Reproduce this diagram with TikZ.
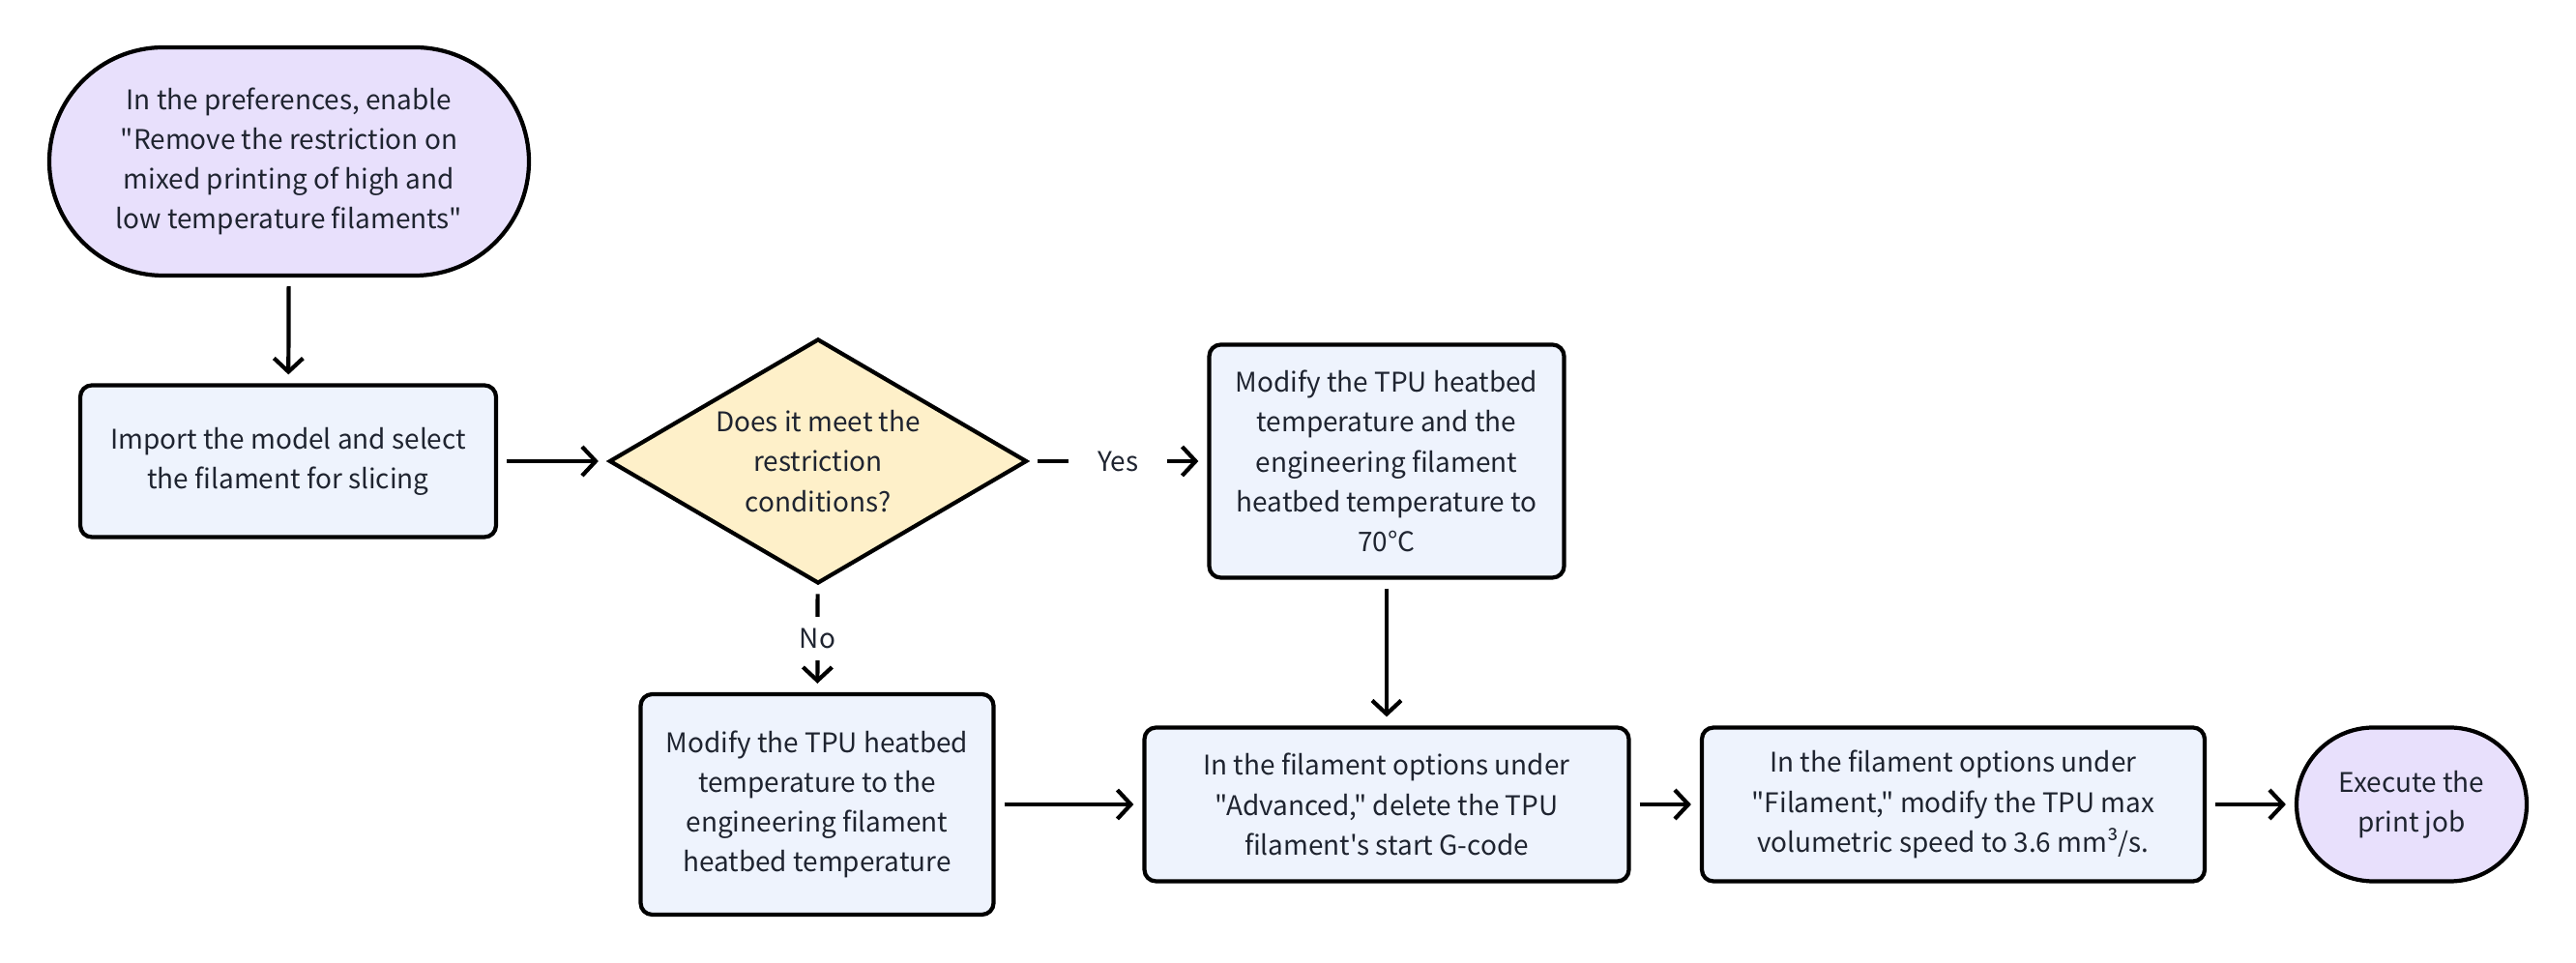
\documentclass[tikz,border=0pt]{standalone}
\usepackage{fontspec}
\newfontfamily\flowfont{Noto Sans CJK SC}
\usepackage{tikz}
\usetikzlibrary{shapes.geometric, shapes.misc, arrows.meta}

\definecolor{termfill}{HTML}{E8E0FC}
\definecolor{stepfill}{HTML}{EEF3FD}
\definecolor{decfill}{HTML}{FEF0C9}
\definecolor{inkgray}{HTML}{1F2430}

\begin{document}
\begin{tikzpicture}[
    every node/.style={font=\flowfont\fontsize{7.95}{11.7}\selectfont, text=inkgray, align=center},
    stepbox/.style={draw, line width=1.2pt, rounded corners=0.12cm, fill=stepfill, inner sep=0pt},
    termbox/.style={draw, line width=1.2pt, rounded rectangle, fill=termfill, inner sep=0pt},
    decisionbox/.style={draw, line width=1.2pt, diamond, aspect=1.7, fill=decfill, inner sep=0pt},
    flowarrow/.style={line width=1.2pt, -{Straight Barb[length=0.14cm, width=0.3cm]},
      shorten <=0.09cm, shorten >=0.09cm},
    branchlabel/.style={fill=white, inner xsep=0.3cm, inner ysep=0.12cm},
  ]
    \useasboundingbox (0, 0) rectangle (26.64, 9.96);
    \def\RowA{5.19}                        % 第一行高度
    \def\RowB{1.64}                        % 第二行高度

    % 起点
    \node[termbox, minimum width=4.96cm, minimum height=2.36cm] (prefs) at (2.99, 8.29)
      {In the preferences, enable\\ "Remove the restriction on\\ mixed printing of high and\\ low temperature filaments"};

    % 第一行
    \node[stepbox, minimum width=4.30cm, minimum height=1.57cm] (import) at (2.98, \RowA)
      {Import the model and select\\ the filament for slicing};
    \node[decisionbox, minimum width=4.32cm, minimum height=2.53cm] (check) at (8.46, \RowA)
      {Does it meet the\\ restriction\\ conditions?};
    \node[stepbox, minimum width=3.67cm, minimum height=2.41cm] (setseventy) at (14.34, \RowA)
      {Modify the TPU heatbed\\ temperature and the\\ engineering filament\\ heatbed temperature to\\ 70°C};

    % 第二行
    \node[stepbox, minimum width=3.65cm, minimum height=2.28cm] (setengbed) at (8.45, \RowB)
      {Modify the TPU heatbed\\ temperature to the\\ engineering filament\\ heatbed temperature};
    \node[stepbox, minimum width=5.01cm, minimum height=1.59cm] (delgcode) at (14.34, \RowB)
      {In the filament options under\\ "Advanced," delete the TPU\\ filament's start G-code};
    \node[stepbox, minimum width=5.20cm, minimum height=1.59cm] (maxspeed) at (20.20, \RowB)
      {In the filament options under\\ "Filament," modify the TPU max\\ volumetric speed to 3.6 mm³/s.};
    \node[termbox, minimum width=2.38cm, minimum height=1.59cm] (execute) at (24.94, \RowB)
      {Execute the\\ print job};

    % 连线
    \draw[flowarrow] (prefs) -- (import);
    \draw[flowarrow] (import) -- (check);
    \draw[flowarrow] (check) -- node[branchlabel] {Yes} (setseventy);
    \draw[flowarrow] (check) -- node[branchlabel] {No} (setengbed);
    \draw[flowarrow] (setseventy) -- (delgcode);
    \draw[flowarrow] (setengbed) -- (delgcode);
    \draw[flowarrow] (delgcode) -- (maxspeed);
    \draw[flowarrow] (maxspeed) -- (execute);
  \end{tikzpicture}
\end{document}
